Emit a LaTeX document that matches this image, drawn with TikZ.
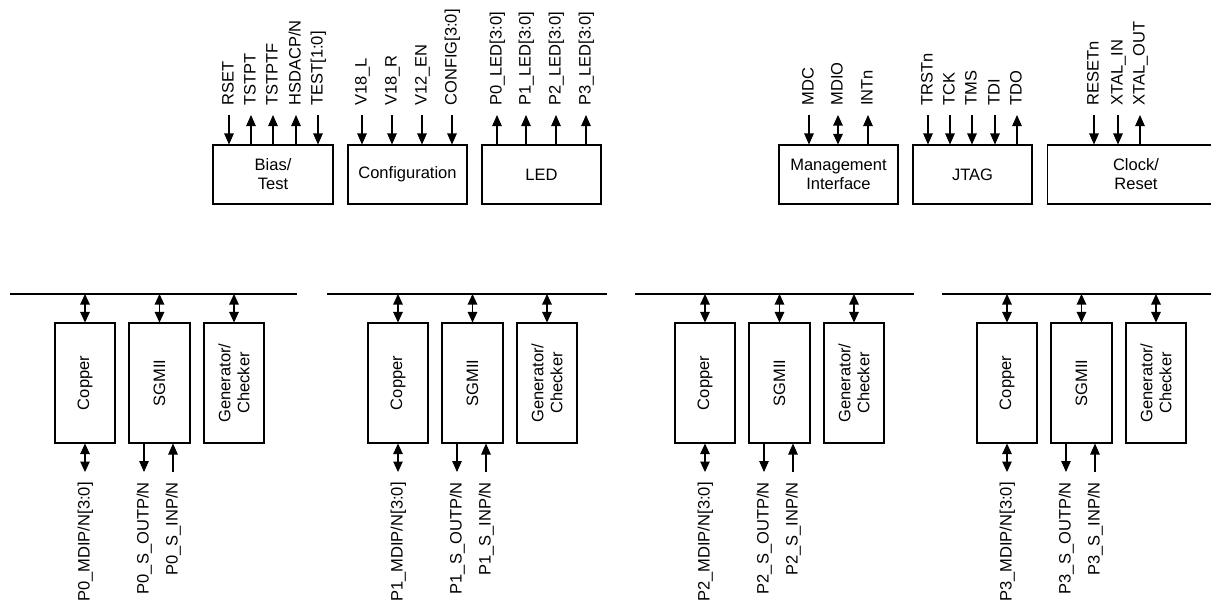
\documentclass[tikz,border=0pt]{standalone}
\usepackage{fontspec}
\setmainfont{Liberation Sans}
\usetikzlibrary{arrows.meta}
\tikzset{
  blk/.style={draw, line width=0.6pt, inner sep=0pt, align=center},
  topbox/.style={blk, minimum height=1.18cm, minimum width=2.38cm},
  portbox/.style={blk, minimum width=1.2cm, minimum height=2.4cm},
  sig/.style={line width=0.6pt},
  sigin/.style={sig, -{Triangle[length=2.2mm,width=1.9mm]}},
  sigbi/.style={sig, {Triangle[length=2.1mm,width=1.9mm]}-{Triangle[length=2.1mm,width=1.9mm]}},
  toplabel/.style={rotate=90, anchor=mid west, inner sep=0pt},
  botlabel/.style={rotate=90, anchor=mid east, inner sep=0pt},
  bus/.style={line width=1.4pt}
}

\begin{document}
\begin{tikzpicture}[x=0.02cm, y=-0.02cm, font=\fontsize{9.4}{10.8}\selectfont]
\useasboundingbox (0,0) rectangle (1211,600);
\clip (0,0) rectangle (1211,600);

\node[topbox, minimum width=2.4cm] (bias) at (273,174.5) {Bias/\\Test};
\node[topbox] (config) at (407.5,174.5) {Configuration};
\node[topbox] (led) at (541.5,174.5) {LED};
\node[topbox] (mgmt) at (838.5,174.5) {Management\\Interface};
\node[topbox] (jtag) at (972.5,174.5) {JTAG};
\node[topbox, minimum width=3.56cm] (clkrst) at (1136,174.5) {Clock/\\Reset};

\foreach \xx/\blk/\lbl in {229/bias/RSET, 318/bias/TEST[1:0], 362/config/V18\_L,
    392/config/V18\_R, 422/config/V12\_EN, 452/config/CONFIG[3:0], 809/mgmt/MDC,
    928/jtag/TRSTn, 950/jtag/TCK, 972/jtag/TMS, 995/jtag/TDI,
    1094/clkrst/RESETn, 1118/clkrst/XTAL\_IN}{
  \coordinate (pin\xx) at (\xx,115);
  \draw[sigin] (pin\xx) -- (pin\xx |- \blk.north);
  \node[toplabel] (lbl\xx) at (\xx,106) {\lbl};
}
\foreach \xx/\blk/\lbl in {251/bias/TSTPT, 273/bias/TSTPTF, 296/bias/{HSDACP/N},
    497/led/P0\_LED[3:0], 526/led/P1\_LED[3:0], 556/led/P2\_LED[3:0],
    586/led/P3\_LED[3:0], 868/mgmt/INTn, 1017/jtag/TDO, 1140/clkrst/XTAL\_OUT}{
  \coordinate (pin\xx) at (\xx,115);
  \draw[sigin] (pin\xx |- \blk.north) -- (pin\xx);
  \node[toplabel] (lbl\xx) at (\xx,106) {\lbl};
}
\coordinate (pin838) at (838,115);
\draw[sigbi] (pin838) -- (pin838 |- mgmt.north);
\node[toplabel] (lbl838) at (838,106) {MDIO};

\foreach \p/\xo/\bl/\br in {0/0/10/297, 1/313/327/607, 2/620/635/914, 3/922/942/1211}{
  \coordinate (busl\p) at (\bl,294);
  \coordinate (busr\p) at (\br,294);
  \draw[bus] (busl\p) -- (busr\p);
  \node[portbox, label={[rotate=90]center:Copper}] (cu\p) at (85+\xo,383) {};
  \node[portbox, minimum width=1.22cm, label={[rotate=90]center:SGMII}] (sg\p) at (159.5+\xo,383) {};
  \node[portbox, label={[rotate=90,align=center]center:{Generator/\\Checker}}] (gc\p) at (234+\xo,383) {};
  \draw[sigbi] (cu\p.north |- busl\p) -- (cu\p.north);
  \draw[sigbi] (sg\p.north |- busl\p) -- (sg\p.north);
  \draw[sigbi] (gc\p.north |- busl\p) -- (gc\p.north);
  \coordinate (md\p) at (85+\xo,472);
  \coordinate (so\p) at (144+\xo,472);
  \coordinate (si\p) at (173+\xo,472);
  \draw[sigbi] (cu\p.south) -- (md\p);
  \draw[sigin] (so\p |- sg\p.south) -- (so\p);
  \draw[sigin] (si\p) -- (si\p |- sg\p.south);
  \node[botlabel] (mdl\p) at (85+\xo,482) {P\p\_MDIP/N[3:0]};
  \node[botlabel] (sol\p) at (144+\xo,482) {P\p\_S\_OUTP/N};
  \node[botlabel] (sil\p) at (173+\xo,482) {P\p\_S\_INP/N};
}
\end{tikzpicture}
\end{document}
